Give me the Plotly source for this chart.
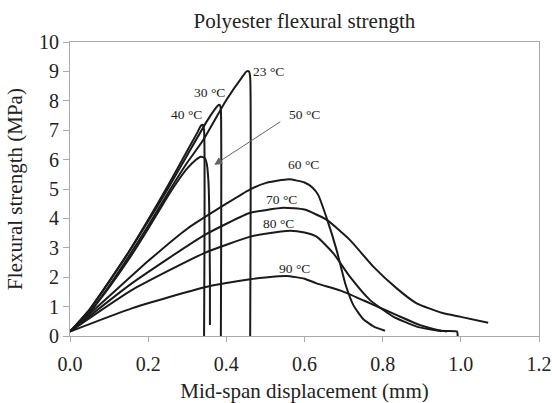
import plotly.graph_objects as go

# ---- data ----
x_23 = [0, 0.05, 0.10, 0.15, 0.20, 0.25, 0.30, 0.34, 0.40, 0.44, 0.452, 0.458, 0.461, 0.461]
y_23 = [0.15, 0.80, 1.70, 2.70, 3.75, 4.85, 5.90, 6.65, 8.03, 8.80, 9.00, 9.00, 8.80, 0.0]

x_30 = [0, 0.05, 0.10, 0.15, 0.20, 0.25, 0.30, 0.35, 0.37, 0.38, 0.384, 0.386, 0.386]
y_30 = [0.15, 0.90, 1.85, 2.85, 3.90, 5.00, 6.15, 7.30, 7.70, 7.86, 7.84, 7.70, 0.0]

x_40 = [0, 0.05, 0.10, 0.15, 0.20, 0.25, 0.30, 0.325, 0.335, 0.340, 0.343, 0.343]
y_40 = [0.15, 0.90, 1.85, 2.85, 3.95, 5.10, 6.30, 6.90, 7.15, 7.18, 7.00, 0.0]

x_50 = [0, 0.05, 0.10, 0.15, 0.20, 0.25, 0.28, 0.30, 0.32, 0.335, 0.345, 0.350, 0.354, 0.356, 0.358, 0.358]
y_50 = [0.15, 0.80, 1.65, 2.60, 3.65, 4.75, 5.35, 5.70, 5.97, 6.10, 6.05, 5.85, 5.30, 4.50, 2.00, 0.37]

x_60 = [0, 0.10, 0.20, 0.30, 0.40, 0.46, 0.50, 0.56, 0.60, 0.62, 0.635, 0.657, 0.682, 0.705, 0.725, 0.75, 0.78, 0.806]
y_60 = [0.15, 1.35, 2.55, 3.65, 4.50, 4.98, 5.20, 5.33, 5.22, 5.05, 4.80, 4.00, 2.93, 1.75, 1.05, 0.58, 0.30, 0.18]

x_70 = [0, 0.158, 0.345, 0.461, 0.50, 0.546, 0.60, 0.657, 0.716, 0.776, 0.836, 0.887, 0.951, 1.00, 1.07]
y_70 = [0.15, 1.79, 3.44, 4.19, 4.28, 4.36, 4.30, 3.95, 3.27, 2.36, 1.62, 1.11, 0.79, 0.65, 0.45]

x_80 = [0, 0.158, 0.345, 0.461, 0.50, 0.563, 0.60, 0.631, 0.674, 0.716, 0.768, 0.827, 0.887, 0.947, 0.990, 0.992]
y_80 = [0.15, 1.56, 2.83, 3.38, 3.48, 3.58, 3.52, 3.38, 2.81, 2.02, 1.22, 0.66, 0.32, 0.17, 0.15, 0.0]

x_90 = [0, 0.158, 0.345, 0.461, 0.50, 0.554, 0.60, 0.631, 0.699, 0.768, 0.836, 0.896, 0.951, 0.965]
y_90 = [0.15, 0.94, 1.66, 1.93, 1.99, 2.04, 1.95, 1.79, 1.51, 1.11, 0.71, 0.37, 0.18, 0.15]

series = [
    ("23 °C", x_23, y_23), ("30 °C", x_30, y_30), ("40 °C", x_40, y_40),
    ("50 °C", x_50, y_50), ("60 °C", x_60, y_60), ("70 °C", x_70, y_70),
    ("80 °C", x_80, y_80), ("90 °C", x_90, y_90),
]

# label positions (data coords)
labels = ["23 °C", "30 °C", "40 °C", "50 °C", "60 °C", "70 °C", "80 °C", "90 °C"]
label_x = [0.508, 0.356, 0.297, 0.601, 0.597, 0.542, 0.533, 0.574]
label_y = [8.99, 8.28, 7.52, 7.52, 5.82, 4.66, 3.83, 2.30]

x_ticks = [0.0, 0.2, 0.4, 0.6, 0.8, 1.0, 1.2]
x_tick_text = ["0.0", "0.2", "0.4", "0.6", "0.8", "1.0", "1.2"]
y_ticks = list(range(0, 11))

FONT = "Liberation Serif, Times New Roman, serif"
fig = go.Figure()
for name, xs, ys in series:
    fig.add_trace(go.Scatter(x=xs, y=ys, mode="lines", name=name,
                             line=dict(color="#1a1a1a", width=2, shape="spline", smoothing=0.5),
                             showlegend=False, hoverinfo="skip"))

for t, lx, ly in zip(labels, label_x, label_y):
    fig.add_annotation(x=lx, y=ly, text=t, showarrow=False,
                       font=dict(family=FONT, size=13.5, color="#222"))

# arrow for 50 °C
fig.add_annotation(x=0.369, y=5.82, ax=0.542, ay=7.32, xref="x", yref="y",
                   axref="x", ayref="y", text="", showarrow=True,
                   arrowhead=2, arrowsize=1.6, arrowwidth=1, arrowcolor="#666")

fig.update_layout(
    width=552, height=403,
    margin=dict(l=70, r=13, t=42, b=67),
    paper_bgcolor="white", plot_bgcolor="white",
    font=dict(family=FONT, color="#222"),
    title=dict(text="Polyester flexural strength", x=0.5515, xanchor="center",
               y=0.95, yanchor="middle", font=dict(family=FONT, size=21, color="#222")),
)
fig.update_xaxes(range=[0, 1.2], tickvals=x_ticks, ticktext=x_tick_text, automargin=False,
                 showgrid=False, zeroline=False, showline=True, linecolor="#aaa",
                 linewidth=1, mirror=True, ticks="outside", ticklen=5, tickcolor="#aaa",
                 ticklabelstandoff=5,
                 tickfont=dict(family=FONT, size=20, color="#222"),
                 title=dict(text="Mid-span displacement (mm)", standoff=25,
                            font=dict(family=FONT, size=21, color="#222")))
fig.update_yaxes(range=[0, 10], tickvals=y_ticks, automargin=False,
                 showgrid=False, zeroline=False, showline=True, linecolor="#aaa",
                 linewidth=1, mirror=True, ticks="outside", ticklen=6, tickcolor="#aaa",
                 tickfont=dict(family=FONT, size=20, color="#222"),
                 title=dict(text="Flexural strength (MPa)", standoff=10,
                            font=dict(family=FONT, size=21, color="#222")))

fig.write_html("out.html")
